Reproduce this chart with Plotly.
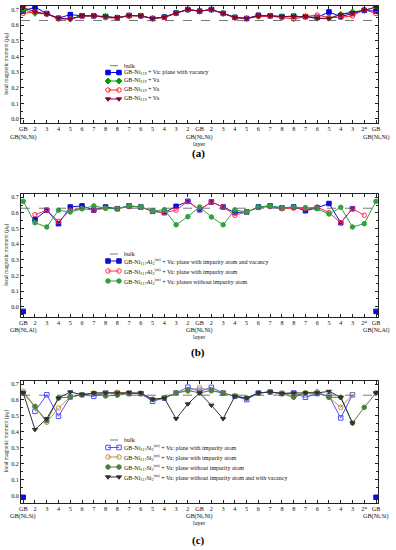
import plotly.graph_objects as go

# ---------------- data ----------------
layers = ["GB", "2", "3", "4", "5", "6", "7", "8", "8", "7", "6", "5", "4", "3", "2",
          "GB", "2", "3", "4", "5", "6", "7", "8", "8", "7", "6", "5", "4", "3", "2*", "GB"]
bulk = 0.63

# panel (a)
a_vacancy = [0.690, 0.716, 0.675, 0.645, 0.668, 0.660, 0.660, 0.656, 0.648, 0.662, 0.660, 0.643, 0.652, 0.678, 0.700,
             0.690, 0.700, 0.676, 0.650, 0.643, 0.664, 0.660, 0.655, 0.658, 0.655, 0.650, 0.685, 0.655, 0.675, 0.695, 0.690]
a_va_green = [0.700, 0.676, 0.672, 0.645, 0.640, 0.660, 0.660, 0.656, 0.648, 0.662, 0.660, 0.643, 0.652, 0.678, 0.700,
              0.690, 0.700, 0.676, 0.650, 0.643, 0.660, 0.660, 0.655, 0.655, 0.655, 0.645, 0.645, 0.670, 0.685, 0.695, 0.716]
a_va_red = [0.676, 0.684, 0.672, 0.640, 0.640, 0.658, 0.660, 0.648, 0.645, 0.660, 0.660, 0.643, 0.650, 0.675, 0.702,
            0.690, 0.700, 0.674, 0.648, 0.643, 0.655, 0.658, 0.648, 0.640, 0.655, 0.665, 0.650, 0.650, 0.660, 0.700, 0.675]
a_va_maroon = [0.714, 0.686, 0.672, 0.645, 0.640, 0.660, 0.660, 0.656, 0.648, 0.662, 0.660, 0.643, 0.652, 0.678, 0.700,
               0.690, 0.700, 0.676, 0.650, 0.643, 0.660, 0.660, 0.655, 0.655, 0.655, 0.643, 0.642, 0.668, 0.680, 0.695, 0.716]

# panel (b)
b_imp_vac = [None, 0.559, 0.617, 0.531, 0.638, 0.645, 0.618, 0.638, 0.627, 0.645, 0.638, 0.610, 0.602, 0.642, 0.674,
             0.620, 0.670, 0.638, 0.602, 0.606, 0.638, 0.645, 0.632, 0.638, 0.614, 0.632, 0.660, 0.537, 0.627, None, None]
b_imp_vac_gb = [-0.030, None, None, None, None, None, None, None, None, None, None, None, None, None, None,
                None, None, None, None, None, None, None, None, None, None, None, None, None, None, None, -0.030]
b_imp = [None, 0.589, 0.617, 0.545, 0.617, 0.627, 0.618, 0.630, 0.627, 0.640, 0.638, 0.610, 0.602, 0.617, 0.674,
         0.620, 0.670, 0.638, 0.585, 0.606, 0.634, 0.640, 0.627, 0.630, 0.627, 0.638, 0.602, 0.537, 0.627, 0.585, None]
b_no_imp = [0.674, 0.537, 0.510, 0.617, 0.606, 0.627, 0.645, 0.630, 0.627, 0.645, 0.638, 0.612, 0.621, 0.524, 0.576,
            0.638, 0.574, 0.524, 0.620, 0.606, 0.636, 0.645, 0.632, 0.636, 0.634, 0.627, 0.593, 0.636, 0.510, 0.531, 0.674]

# panel (c)
c_imp_blue = [None, 0.529, 0.633, 0.498, 0.619, 0.633, 0.623, 0.644, 0.644, 0.640, 0.640, 0.592, 0.612, 0.644, 0.680,
              0.654, 0.679, 0.644, 0.623, 0.602, 0.644, 0.650, 0.640, 0.644, 0.617, 0.640, 0.625, 0.488, 0.633, None, None]
c_imp_blue_gb = [-0.008, None, None, None, None, None, None, None, None, None, None, None, None, None, None,
                 None, None, None, None, None, None, None, None, None, None, None, None, None, None, None, -0.008]
c_imp_tan = [0.655, 0.560, 0.460, 0.550, 0.619, 0.633, 0.644, 0.644, 0.648, 0.644, 0.640, 0.604, 0.612, 0.644, 0.655,
             0.679, 0.656, 0.644, 0.623, 0.612, 0.644, 0.650, 0.644, 0.625, 0.644, 0.652, 0.617, 0.554, 0.633, None, None]
c_no_imp = [0.644, 0.560, 0.470, 0.612, 0.619, 0.633, 0.640, 0.625, 0.630, 0.640, 0.640, 0.604, 0.612, 0.644, 0.660,
            0.644, 0.660, 0.644, 0.623, 0.612, 0.644, 0.650, 0.640, 0.617, 0.644, 0.645, 0.617, 0.617, 0.456, 0.554, 0.644]
c_no_imp_vac = [0.644, 0.415, 0.483, 0.612, 0.650, 0.633, 0.644, 0.644, 0.644, 0.648, 0.644, 0.604, 0.612, 0.483, 0.575,
                0.644, 0.567, 0.483, 0.623, 0.612, 0.644, 0.650, 0.640, 0.644, 0.644, 0.644, 0.654, 0.617, 0.456, None, 0.644]

# ---------------- styling ----------------
FONT = "Liberation Serif"
W, H = 396, 550
xs = list(range(len(layers)))

panels = [
    dict(top=6, bottom=122.7, yr=[-0.024, 0.723], edge="GB(Ni,Ni)", label="(a)", label_y=153,
         sub_y=136.7, layer_y=143.5,
         series=[
             ("GB-Ni<sub>119</sub> + Va: plane with vacancy", a_vacancy, "#0000ee", "square"),
             ("GB-Ni<sub>119</sub> + Va", a_va_green, "#00a000", "diamond"),
             ("GB-Ni<sub>119</sub> + Va", a_va_red, "#ff2020", "circle-open"),
             ("GB-Ni<sub>119</sub> + Va", a_va_maroon, "#800040", "triangle-down"),
         ], extra=[], leg_y=[65.7, 72.5, 81, 90, 99]),
    dict(top=194, bottom=316.7, yr=[-0.064, 0.721], edge="GB(Ni,Al)", label="(b)", label_y=352,
         sub_y=329.5, layer_y=336,
         series=[
             ("GB-Ni<sub>117</sub>Al<sub>2</sub><sup>(m)</sup> + Va: plane with impurity atom and vacancy", b_imp_vac, "#1010d0", "square"),
             ("GB-Ni<sub>117</sub>Al<sub>2</sub><sup>(m)</sup> + Va: plane with impurity atom", b_imp, "#ff3050", "circle-open"),
             ("GB-Ni<sub>117</sub>Al<sub>2</sub><sup>(m)</sup> + Va: planes without impurity atom", b_no_imp, "#30a040", "circle"),
         ], extra=[(b_imp_vac_gb, "#1010d0", "square")], leg_y=[254, 261, 271, 281]),
    dict(top=380.7, bottom=502.7, yr=[-0.042, 0.7206], edge="GB(Ni,Si)", label="(c)", label_y=540,
         sub_y=515.5, layer_y=522,
         series=[
             ("GB-Ni<sub>117</sub>Si<sub>2</sub><sup>(m)</sup> + Va: plane with impurity atom", c_imp_blue, "#5050ff", "square-open"),
             ("GB-Ni<sub>117</sub>Si<sub>2</sub><sup>(m)</sup> + Va: plane with impurity atom", c_imp_tan, "#c09050", "circle-open"),
             ("GB-Ni<sub>117</sub>Si<sub>2</sub><sup>(m)</sup> + Va: plane without impurity atom", c_no_imp, "#4f7f3f", "circle"),
             ("GB-Ni<sub>117</sub>Si<sub>2</sub><sup>(m)</sup> + Va: plane without impurity atom and with vacancy", c_no_imp_vac, "#303030", "triangle-down"),
         ], extra=[(c_imp_blue_gb, "#1010e0", "square")], leg_y=[440, 447.5, 457, 467, 477]),
]

fig = go.Figure()
X0, X1 = 21, 378
annotations = []
shapes = []
layout_axes = {}

for k, p in enumerate(panels, start=1):
    xa = "x" if k == 1 else f"x{k}"
    ya = "y" if k == 1 else f"y{k}"
    xkey = "xaxis" if k == 1 else f"xaxis{k}"
    ykey = "yaxis" if k == 1 else f"yaxis{k}"
    layout_axes[xkey] = dict(
        domain=[X0 / W, X1 / W], range=[-0.19, 30.17], anchor=ya, automargin=False,
        tickmode="array", tickvals=xs, ticktext=layers,
        ticks="inside", ticklen=3, tickwidth=0.8, tickcolor="#222",
        showline=True, linecolor="#222", linewidth=0.8, mirror="allticks",
        showgrid=False, zeroline=False,
        tickfont=dict(family=FONT, size=6.2, color="#111"), tickangle=0,
    )
    layout_axes[ykey] = dict(
        domain=[1 - p["bottom"] / H, 1 - p["top"] / H], range=p["yr"], anchor=xa, automargin=False,
        tickmode="linear", tick0=0, dtick=0.1, tickformat=".1f",
        ticks="inside", ticklen=3, tickwidth=0.8, tickcolor="#222",
        minor=dict(ticks="inside", dtick=0.05, ticklen=1.8, tickcolor="#222", tickwidth=0.6),
        showline=True, linecolor="#222", linewidth=0.8, mirror="allticks",
        showgrid=False, zeroline=False,
        tickfont=dict(family=FONT, size=6.2, color="#111"),
    )
    # bulk reference line
    shapes.append(dict(type="line", xref=f"{xa} domain", yref=ya, x0=0, x1=1, y0=bulk, y1=bulk,
                       line=dict(color="#555", width=0.8, dash="dash")))
    for name, vals, color, sym in p["series"]:
        fig.add_trace(go.Scatter(
            x=xs, y=vals, xaxis=xa, yaxis=ya, mode="lines+markers", showlegend=False,
            line=dict(color=color, width=1), connectgaps=False,
            marker=dict(symbol=sym, size=4.5, color=color, line=dict(color=color, width=1)),
        ))
    for vals, color, sym in p["extra"]:
        fig.add_trace(go.Scatter(
            x=xs, y=vals, xaxis=xa, yaxis=ya, mode="markers", showlegend=False,
            marker=dict(symbol=sym, size=4.5, color=color, line=dict(color=color, width=1)),
        ))
    # second line of GB tick labels
    for xi, txt in ((0, p["edge"]), (15, "GB(Ni,Ni)"), (30, p["edge"])):
        annotations.append(dict(text=txt, xref=xa, yref="paper", x=xi, y=1 - p["sub_y"] / H,
                                showarrow=False, font=dict(family=FONT, size=6.2, color="#111"),
                                xanchor="center", yanchor="middle"))
    # y title
    annotations.append(dict(text="local magnetic moment (μ<sub>B</sub>)", xref="paper", yref="paper",
                            x=6.5 / W, y=1 - ((p["top"] + p["bottom"]) / 2) / H, textangle=-90,
                            showarrow=False, font=dict(family=FONT, size=5.5, color="#111"),
                            xanchor="center", yanchor="middle"))
    annotations.append(dict(text="layer", xref="paper", yref="paper", x=199 / W, y=1 - p["layer_y"] / H,
                            showarrow=False, font=dict(family=FONT, size=6.2, color="#111"),
                            xanchor="center", yanchor="middle"))
    annotations.append(dict(text="<b>" + p["label"] + "</b>", xref="paper", yref="paper", x=198 / W,
                            y=1 - p["label_y"] / H, showarrow=False,
                            font=dict(family=FONT, size=11, color="#000"),
                            xanchor="center", yanchor="middle"))
    # custom compact legend (overlay pixel axes)
    ly = p["leg_y"]
    entries = [("bulk", None, "#555", None)] + p["series"]
    for j, (name, vals, color, sym) in enumerate(entries):
        yy = ly[j]
        if vals is None:
            shapes.append(dict(type="line", xref="paper", yref="paper", x0=110 / W, x1=118 / W,
                               y0=1 - yy / H, y1=1 - yy / H, line=dict(color=color, width=0.8, dash="dash")))
        else:
            fig.add_trace(go.Scatter(
                x=[108, 119], y=[yy, yy], xaxis="x4", yaxis="y4", mode="lines+markers", showlegend=False,
                hoverinfo="skip", line=dict(color=color, width=1),
                marker=dict(symbol=sym, size=4.5, color=color, line=dict(color=color, width=1)),
            ))
        annotations.append(dict(text=name, xref="paper", yref="paper", x=122 / W, y=1 - yy / H,
                                showarrow=False, font=dict(family=FONT, size=6, color="#111"),
                                xanchor="left", yanchor="middle"))

layout_axes["xaxis4"] = dict(domain=[0, 1], range=[0, W], visible=False, anchor="y4", automargin=False)
layout_axes["yaxis4"] = dict(domain=[0, 1], range=[H, 0], visible=False, anchor="x4", automargin=False)

fig.update_layout(
    width=W, height=H, margin=dict(l=0, r=0, t=0, b=0, autoexpand=False),
    paper_bgcolor="white", plot_bgcolor="rgba(0,0,0,0)",
    showlegend=False, annotations=annotations, shapes=shapes,
    font=dict(family=FONT, color="#111"),
    **layout_axes,
)
fig.write_html("out.html", config={"displayModeBar": False},
               post_script="document.body.style.margin='0';document.body.style.overflow='hidden';")
